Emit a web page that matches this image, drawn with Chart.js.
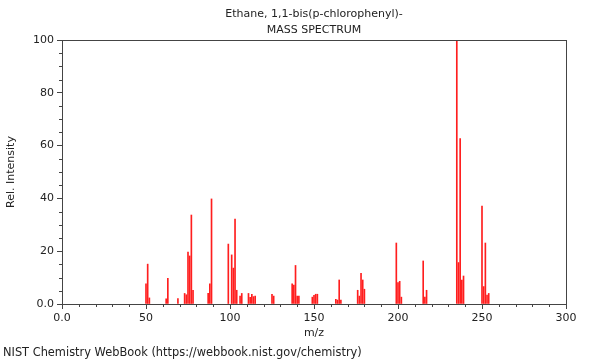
<!DOCTYPE html>
<html>
<head>
<meta charset="utf-8">
<script src="https://cdn.jsdelivr.net/npm/chart.js@4/dist/chart.umd.min.js"></script>
<style>
  html, body { margin: 0; padding: 0; background: #fff; }
  #wrap { width: 600px; height: 360px; }
</style>
</head>
<body>
<div id="wrap"><canvas id="spectrum" width="600" height="360"></canvas></div>
<script>
const titleLines = ['Ethane, 1,1-bis(p-chlorophenyl)-', 'MASS SPECTRUM'];
const footerText = 'NIST Chemistry WebBook (https://webbook.nist.gov/chemistry)';

const mz = [50, 51, 52, 62, 63, 69, 73, 74, 75, 76, 77, 78, 87, 88, 89,
    99, 101, 102, 103, 104, 106, 107, 111, 112, 113, 114, 115, 125, 126,
    137, 138, 139, 140, 141, 149, 150, 151, 152, 163, 164, 165, 166,
    176, 177, 178, 179, 180, 199, 200, 201, 202, 215, 216, 217,
    235, 236, 237, 238, 239, 250, 251, 252, 253, 254];

const intensity = [7.6, 15.1, 2.3, 2.0, 9.7, 2.1, 4.0, 3.5, 19.7, 18.2, 33.7, 5.2, 4.0, 7.6, 39.8,
    22.7, 18.6, 13.6, 32.2, 5.2, 3.0, 4.0, 4.0, 2.5, 3.7, 2.8, 3.0, 3.7, 3.0,
    7.6, 7.2, 14.6, 3.0, 3.0, 2.6, 3.3, 3.7, 3.7, 1.8, 1.5, 9.1, 1.5,
    5.2, 3.0, 11.6, 9.1, 5.6, 23.1, 8.1, 8.6, 2.6, 16.3, 2.6, 5.2,
    100, 15.7, 62.7, 9.1, 10.6, 37.1, 6.6, 23.1, 3.4, 4.0];

const xTicks = [0, 50, 100, 150, 200, 250, 300];
const yTicks = [0, 20, 40, 60, 80, 100];

const axisColor = '#444';
const textColor = '#222';
const fontFamily = '"DejaVu Sans", sans-serif';

function zeroLabel(value) {
    return value === 0 ? '0.0' : String(value);
}

// frame, minor ticks, titles and footer
const decorations = {
    id: 'decorations',
    afterDraw(chart) {
        const ctx = chart.ctx;
        const area = chart.chartArea;
        const xs = chart.scales.x;
        const ys = chart.scales.y;
        ctx.save();
        ctx.strokeStyle = axisColor;
        ctx.lineWidth = 1;
        ctx.strokeRect(Math.round(area.left) + 0.5, Math.round(area.top) + 0.5,
            Math.round(area.right - area.left), Math.round(area.bottom - area.top));

        ctx.beginPath();
        for (let v = 10; v < 300; v += 10) {
            if (v % 50 === 0) continue;
            const px = Math.round(xs.getPixelForValue(v)) + 0.5;
            ctx.moveTo(px, area.bottom);
            ctx.lineTo(px, area.bottom + 3);
        }
        for (let v = 5; v < 100; v += 5) {
            if (v % 20 === 0) continue;
            const py = Math.round(ys.getPixelForValue(v)) + 0.5;
            ctx.moveTo(area.left - 3, py);
            ctx.lineTo(area.left, py);
        }
        ctx.stroke();

        ctx.fillStyle = textColor;
        ctx.font = '11px ' + fontFamily;
        ctx.textAlign = 'center';
        ctx.textBaseline = 'middle';
        const cx = (area.left + area.right) / 2;
        ctx.fillText(titleLines[0], cx, 14);
        ctx.fillText(titleLines[1], cx, 30.5);
        ctx.font = '11.4px ' + fontFamily;
        ctx.textAlign = 'left';
        ctx.fillText(footerText, 3, 353);
        ctx.restore();
    }
};

const config = {
    type: 'bar',
    data: {
        datasets: [{
            data: mz.map((m, i) => ({x: m, y: intensity[i]})),
            backgroundColor: 'rgb(255,30,30)',
            borderWidth: 0,
            barThickness: 1
        }]
    },
    options: {
        responsive: false,
        animation: false,
        layout: {padding: {top: 40, right: 34, bottom: 20, left: 0}},
        plugins: {
            legend: {display: false},
            title: {display: false},
            tooltip: {enabled: false}
        },
        scales: {
            x: {
                type: 'linear',
                min: 0,
                max: 300,
                offset: false,
                afterBuildTicks: scale => { scale.ticks = xTicks.map(v => ({value: v})); },
                afterFit: scale => { scale.height = 36; },
                grid: {offset: false, drawOnChartArea: false, tickLength: 5, tickColor: axisColor},
                border: {color: axisColor},
                ticks: {
                    color: textColor,
                    padding: 3,
                    maxRotation: 0,
                    font: {family: fontFamily, size: 11},
                    callback: zeroLabel
                },
                title: {
                    display: true,
                    text: 'm/z',
                    color: textColor,
                    padding: {top: 0, bottom: 0},
                    font: {family: fontFamily, size: 11}
                }
            },
            y: {
                min: 0,
                max: 100,
                afterBuildTicks: scale => { scale.ticks = yTicks.map(v => ({value: v})); },
                afterFit: scale => { scale.width = 62; },
                grid: {drawOnChartArea: false, tickLength: 5, tickColor: axisColor},
                border: {color: axisColor},
                ticks: {
                    color: textColor,
                    padding: 3,
                    font: {family: fontFamily, size: 11},
                    callback: zeroLabel
                },
                title: {
                    display: true,
                    text: 'Rel. Intensity',
                    color: textColor,
                    padding: {top: 5, bottom: 0},
                    font: {family: fontFamily, size: 11}
                }
            }
        }
    },
    plugins: [decorations]
};

new Chart(document.getElementById('spectrum'), config);
</script>
</body>
</html>
